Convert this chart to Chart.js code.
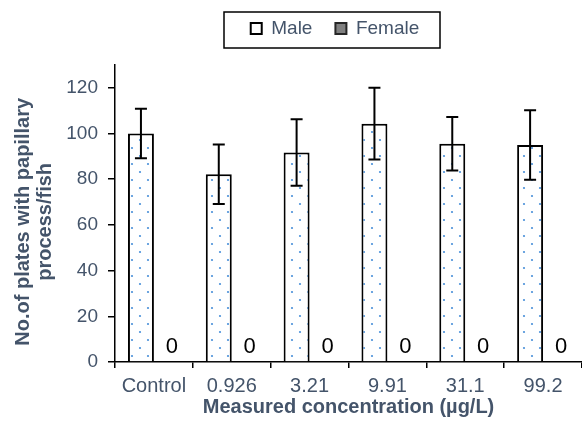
<!DOCTYPE html>
<html>
<head>
<meta charset="utf-8">
<script src="https://cdn.jsdelivr.net/npm/chart.js@4.4.0/dist/chart.umd.min.js"></script>
<style>
  html, body { margin: 0; padding: 0; background: #fff; }
  #wrap { width: 582px; height: 428px; position: relative; }
</style>
</head>
<body>
<div id="wrap"><canvas id="barChart"></canvas></div>
<script>
// data
let categories = ['Control', '0.926', '3.21', '9.91', '31.1', '99.2'];
let maleMeans = [100, 82.2, 91.7, 104.3, 95.5, 95];
let maleSD = [10.8, 13, 14.5, 15.7, 11.7, 15.2];
let femaleMeans = [0, 0, 0, 0, 0, 0];

const textColor = '#44546A';
const fontFamily = '"Liberation Sans", Arial, sans-serif';

// dotted fill for the Male bars
function dotPattern() {
    let c = document.createElement('canvas');
    c.width = 16;
    c.height = 16;
    let g = c.getContext('2d');
    g.fillStyle = '#ffffff';
    g.fillRect(0, 0, 16, 16);
    g.fillStyle = '#4A90D9';
    g.beginPath(); g.arc(4, 4, 1.1, 0, Math.PI * 2); g.fill();
    g.beginPath(); g.arc(12, 12, 1.1, 0, Math.PI * 2); g.fill();
    return document.getElementById('barChart').getContext('2d').createPattern(c, 'repeat');
}

// error bars, "0" labels and the legend frame
const extras = {
    id: 'extras',
    afterLayout(chart) {
        // legend sits a bit left of the plot centre and its row is at y~30
        let lg = chart.legend;
        lg.left += 44;
        lg.right += 44;
        lg.top -= 4;
        lg.bottom -= 4;
    },
    afterDatasetsDraw(chart) {
        let ctx = chart.ctx;
        let y = chart.scales.y;
        let male = chart.getDatasetMeta(0);
        ctx.save();
        ctx.strokeStyle = '#000';
        ctx.lineWidth = 2;
        male.data.forEach((bar, i) => {
            let hi = y.getPixelForValue(maleMeans[i] + maleSD[i]);
            let lo = y.getPixelForValue(maleMeans[i] - maleSD[i]);
            ctx.beginPath();
            ctx.moveTo(bar.x, hi); ctx.lineTo(bar.x, lo);
            ctx.moveTo(bar.x - 6, hi); ctx.lineTo(bar.x + 6, hi);
            ctx.moveTo(bar.x - 6, lo); ctx.lineTo(bar.x + 6, lo);
            ctx.stroke();
        });
        let female = chart.getDatasetMeta(1);
        ctx.fillStyle = '#000';
        ctx.font = '22px ' + fontFamily;
        ctx.textAlign = 'center';
        ctx.textBaseline = 'alphabetic';
        female.data.forEach((bar, i) => {
            ctx.fillText(String(femaleMeans[i]), bar.x + 5, y.getPixelForValue(femaleMeans[i]) - 9);
        });
        ctx.restore();
    },
    afterDraw(chart) {
        let ctx = chart.ctx;
        ctx.save();
        ctx.strokeStyle = '#000';
        ctx.lineWidth = 1.5;
        ctx.strokeRect(224, 12, 216, 36);
        ctx.restore();
    }
};

const legendSpace = {
    id: 'legendSpace',
    beforeInit(chart) {
        let fit = chart.legend.fit;
        chart.legend.fit = function () {
            fit.bind(chart.legend)();
            this.height = 65;
        };
    }
};

let ctx = document.getElementById('barChart').getContext('2d');
let barChart = new Chart(ctx, {
    type: 'bar',
    data: {
        labels: categories,
        datasets: [{
            label: 'Male',
            data: maleMeans,
            backgroundColor: dotPattern(),
            borderColor: '#000',
            borderWidth: 2,
            borderSkipped: 'bottom'
        }, {
            label: 'Female',
            data: femaleMeans,
            backgroundColor: '#808080',
            borderColor: '#000',
            borderWidth: 0
        }]
    },
    options: {
        responsive: true,
        maintainAspectRatio: false,
        animation: false,
        categoryPercentage: 0.667,
        barPercentage: 1,
        layout: { padding: { top: 0, left: 0, right: 0, bottom: 0 } },
        plugins: {
            legend: {
                display: true,
                position: 'top',
                labels: {
                    color: textColor,
                    font: { size: 19, family: fontFamily },
                    boxWidth: 11,
                    boxHeight: 11,
                    padding: 23,
                    generateLabels(chart) {
                        let items = Chart.defaults.plugins.legend.labels.generateLabels(chart);
                        items[0].fillStyle = '#ffffff';
                        items[0].strokeStyle = '#000';
                        items[0].lineWidth = 2;
                        items[1].fillStyle = '#808080';
                        items[1].strokeStyle = '#262626';
                        items[1].lineWidth = 2;
                        return items;
                    }
                }
            },
            tooltip: { enabled: false }
        },
        scales: {
            x: {
                grid: {
                    display: true,
                    offset: true,
                    drawOnChartArea: false,
                    color: '#000',
                    lineWidth: 1.5,
                    tickLength: 6
                },
                border: { display: true, color: '#000', width: 1.5 },
                ticks: {
                    color: textColor,
                    font: { size: 20, family: fontFamily },
                    padding: 6,
                    maxRotation: 0
                },
                title: {
                    display: true,
                    text: 'Measured concentration (µg/L)',
                    color: textColor,
                    font: { size: 20, weight: 'bold', family: fontFamily },
                    padding: { top: 0, bottom: 9 }
                },
                afterFit(s) { s.height = 66; }
            },
            y: {
                min: 0,
                max: 130,
                grid: {
                    display: true,
                    drawOnChartArea: false,
                    color: '#000',
                    lineWidth: 1.5,
                    tickLength: 7
                },
                border: { display: true, color: '#000', width: 1.5 },
                ticks: {
                    stepSize: 20,
                    includeBounds: false,
                    color: textColor,
                    font: { size: 19, family: fontFamily },
                    padding: 10
                },
                afterBuildTicks(s) { s.ticks = s.ticks.filter(t => t.value <= 120); },
                title: {
                    display: true,
                    text: ['No.of plates with papillary   ', 'process/fish   '],
                    color: textColor,
                    font: { size: 20, weight: 'bold', family: fontFamily, lineHeight: 1.1 },
                    padding: { top: 12, bottom: 0 }
                },
                afterFit(s) { s.width = 115; }
            }
        }
    },
    plugins: [extras, legendSpace]
});
</script>
</body>
</html>
